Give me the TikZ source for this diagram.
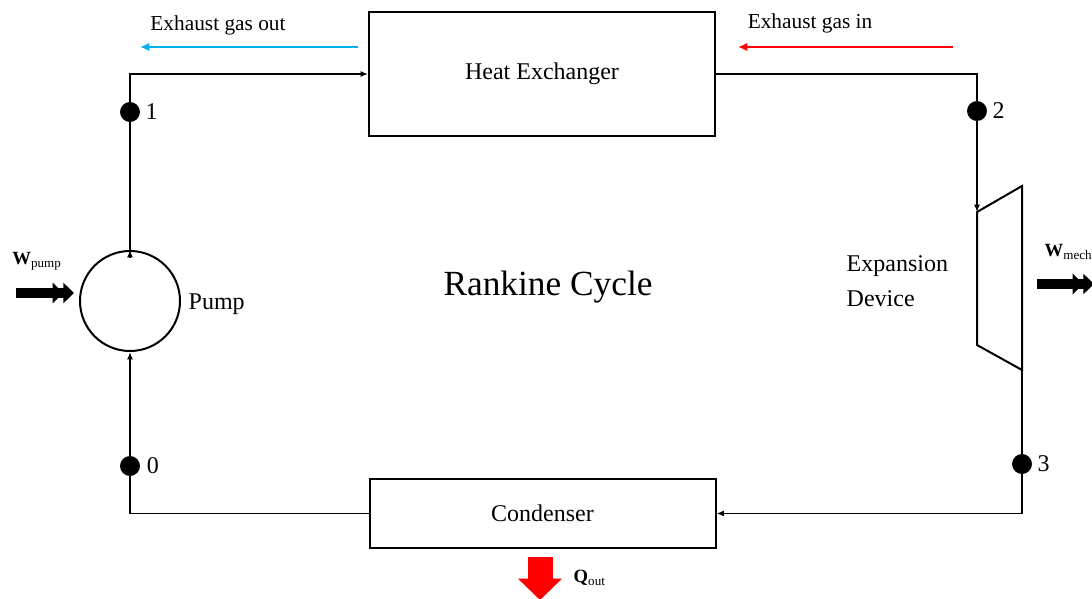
\documentclass[tikz,border=0pt]{standalone}
\usepackage{fontspec}
\setmainfont{Liberation Serif}
\usetikzlibrary{arrows.meta}
\definecolor{gasblue}{RGB}{0,176,240}
\definecolor{gasred}{RGB}{255,0,0}

\begin{document}
\begin{tikzpicture}[x=0.75pt, y=-0.75pt,
        unit/.style={rectangle, draw, line width=1.5pt, text centered, font=\fontsize{18}{22}\selectfont},
        statept/.style={circle, fill=black, draw=black, inner sep=0pt, minimum size=14.5pt},
        num/.style={font=\fontsize{18}{22}\selectfont, inner sep=1pt},
        conn/.style={line width=1.1pt},
        flow/.style={line width=1.1pt, -{Latex[length=5.5pt,width=4.5pt]}},
        gas/.style={line width=2.2pt, -{Latex[length=7pt,width=6.5pt]}},
        gaslabel/.style={font=\fontsize{16}{19}\selectfont},
        work/.style={line width=7pt, -{Triangle[length=8pt,width=15pt]Triangle[length=8pt,width=15pt]}},
        worklabel/.style={font=\fontsize{14}{16}\selectfont}
    ]
        \useasboundingbox (0,0) rectangle (1092,599);

        % Draw main components of the cycle
        \node[unit, minimum width=259.5pt, minimum height=93pt] (hx) at (542,74) {Heat Exchanger};
        \node[unit, minimum width=259.5pt, minimum height=51.75pt] (cond) at (542.5,513.5) {Condenser};
        \node[circle, draw, line width=1.5pt, minimum size=75pt, inner sep=0pt] (pump) at (130,301) {};
        \node[font=\fontsize{18}{22}\selectfont, anchor=west] (pumplabel) at (184,304) {Pump};

        % Expansion device drawn as a trapezium
        \coordinate (exptl) at (977,212);
        \coordinate (exptr) at (1022,186);
        \coordinate (expbr) at (1022,370);
        \coordinate (expbl) at (977,345);
        \draw[line width=1.5pt] (exptl) -- (exptr) -- (expbr) -- (expbl) -- cycle;
        \node[anchor=west, align=left, font=\fontsize{18}{26}\selectfont] (explabel) at (842,281) {Expansion\\Device};

        \node[font=\fontsize{26.5}{30}\selectfont] (title) at (548,287) {Rankine Cycle};

        % Add state points
        \node[statept, label={[num, label distance=3pt]right:1}] (p1) at (130,112) {};
        \node[statept, label={[num, label distance=3pt]right:2}] (p2) at (977,111) {};
        \node[statept, label={[num, label distance=3pt]right:3}] (p3) at (1022,464) {};
        \node[statept, label={[num, label distance=4pt]right:0}] (p0) at (130,466) {};

        % Add working fluid connections
        \draw[flow] (p1) |- (hx.west);
        \draw[conn] (hx.east) -| (p2);
        \draw[flow] (p2) -- (exptl);
        \draw[conn] (expbr) -- (p3);
        \draw[flow] (p3) |- (cond.east);
        \draw[conn] (cond.west) -| (p0);
        \draw[flow] (p0) -- (pump.south);
        \draw[conn] (pump.north) -- (p1);
        \draw[flow] ([yshift=-5pt]pump.north) -- (pump.north);

        % Add exhaust gas streams
        \coordinate (gasoutstart) at (358,47);
        \coordinate (gasoutend) at (140,47);
        \draw[gas, gasblue] (gasoutstart) -- (gasoutend);
        \node[gaslabel] (gasout) at (218,25) {Exhaust gas out};
        \coordinate (gasinstart) at (953,47);
        \coordinate (gasinend) at (738,47);
        \draw[gas, gasred] (gasinstart) -- (gasinend);
        \node[gaslabel] (gasin) at (810,23) {Exhaust gas in};

        % Add work and heat flows
        \coordinate (wpstart) at (16,293);
        \coordinate (wpend) at (74,293);
        \draw[work] (wpstart) -- (wpend);
        \node[worklabel] (wpump) at (37,261) {\textbf{W}\textsubscript{pump}};
        \coordinate (wmstart) at (1037,284);
        \coordinate (wmend) at (1094,284);
        \draw[work] (wmstart) -- (wmend);
        \node[worklabel, anchor=west] (wmech) at (1040,252) {\textbf{W}\textsubscript{mech}};
        \coordinate (qstart) at (540,557);
        \coordinate (qend) at (540,600);
        \draw[line width=18.75pt, gasred, -{Triangle[length=16pt,width=32pt]}] (qstart) -- (qend);
        \node[worklabel, anchor=west] (qout) at (569,578) {\textbf{Q}\textsubscript{out}};

    \end{tikzpicture}
\end{document}
